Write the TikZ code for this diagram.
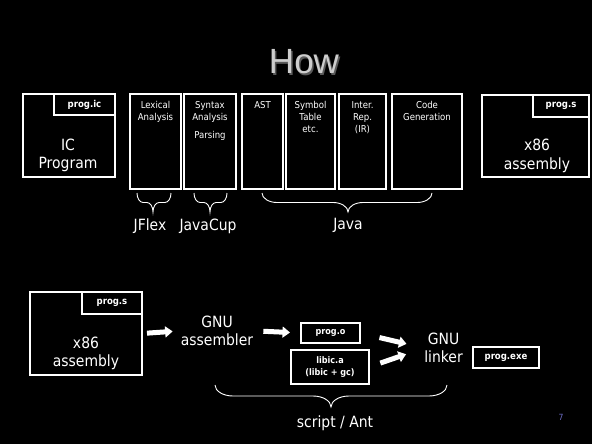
\documentclass[tikz,border=0pt]{standalone}
\usepackage{fontspec}
\setmainfont{DejaVu Sans}[FakeStretch=0.9]
\newfontfamily\titlefont{Liberation Sans}
\usetikzlibrary{arrows.meta}
\definecolor{pagenum}{RGB}{110,110,200}
\definecolor{titlegray}{RGB}{205,205,205}
\definecolor{titleshadow}{RGB}{90,90,90}
% x1, xm, x2, top, rx, ry
\newcommand\mybrace[6]{%
  \draw[bracestyle] (#1,#4) .. controls (#1,{#4+0.55*#6}) and ({#1+0.45*#5},{#4+#6}) .. ({#1+#5},{#4+#6})
    -- ({#2-#5},{#4+#6}) .. controls ({#2-0.45*#5},{#4+#6}) and (#2,{#4+1.45*#6}) .. (#2,{#4+2*#6})
    .. controls (#2,{#4+1.45*#6}) and ({#2+0.45*#5},{#4+#6}) .. ({#2+#5},{#4+#6})
    -- ({#3-#5},{#4+#6}) .. controls ({#3-0.45*#5},{#4+#6}) and (#3,{#4+0.55*#6}) .. (#3,#4);}
\begin{document}
\begin{tikzpicture}[x=1pt,y=-1pt,
  box/.style={draw=white, line width=1.8pt, fill=black, inner sep=0pt, outer sep=0pt},
  tabbox/.style={box, text=white, font=\bfseries\fontsize{9.5}{11}\selectfont},
  lbox/.style={box, text=white, align=center, font=\bfseries\fontsize{9}{12.3}\selectfont},
  bigtxt/.style={text=white, font=\fontsize{15.5}{18.5}\selectfont, align=center, inner sep=0pt},
  smalltxt/.style={text=white, font=\fontsize{9.5}{12}\selectfont, align=center, inner sep=0pt},
  blockarrow/.style={draw=white, line width=5pt, -{Triangle[length=7.5pt,width=11pt]}},
  bracestyle/.style={draw=white, line width=0.9pt},
  stagebox/.style={box, minimum height=95, anchor=north west}
]
\fill[black] (0,0) rectangle (592,444);
\useasboundingbox (0,0) rectangle (592,444);

% title
\node[font=\titlefont\fontsize{35}{40}\selectfont, text=titleshadow, anchor=base, inner sep=0pt] (titlesh) at (305.5,75.5) {How};
\node[font=\titlefont\fontsize{35}{40}\selectfont, text=titlegray, anchor=base, inner sep=0pt] (title) at (304,74) {How};

% top row
\node[box, minimum width=92, minimum height=83, anchor=north west] (icbox) at (23,94) {};
\node[tabbox, minimum width=61, minimum height=21, anchor=north east] (ictab) at (icbox.north east) {prog.ic};
\node[bigtxt, anchor=north] (ictxt) at (68,138.7) {IC\\Program};

\node[stagebox, minimum width=51] (lex) at (130,94) {};
\node[stagebox, minimum width=52] (syn) at (184,94) {};
\node[stagebox, minimum width=41] (ast) at (242,94) {};
\node[stagebox, minimum width=49] (sym) at (286,94) {};
\node[stagebox, minimum width=47] (ir) at (339,94) {};
\node[stagebox, minimum width=70] (cg) at (392,94) {};
\node[smalltxt, anchor=north] (lextxt) at (155.5,101.5) {Lexical\\Analysis};
\node[smalltxt, anchor=north] (syntxt) at (210,101.5) {Syntax\\Analysis\\[6pt]Parsing};
\node[smalltxt, anchor=north] (asttxt) at (262.5,101.5) {AST};
\node[smalltxt, anchor=north] (symtxt) at (310.5,101.5) {Symbol\\Table\\etc.};
\node[smalltxt, anchor=north] (irtxt) at (362.5,101.5) {Inter.\\Rep.\\(IR)};
\node[smalltxt, anchor=north] (cgtxt) at (427,101.5) {Code\\Generation};

\node[box, minimum width=107, minimum height=82, anchor=north west] (asmtop) at (482,95) {};
\node[tabbox, minimum width=56, minimum height=22, anchor=north east] (asmtoptab) at (asmtop.north east) {prog.s};
\node[bigtxt, anchor=north] (asmtoptxt) at (537,139) {x86\\assembly};

% braces top
\mybrace{137}{153}{171}{193}{6}{9.5}
\mybrace{194}{210}{227}{193}{6}{9.5}
\mybrace{262}{348}{432}{193}{15}{9.5}
\node[bigtxt, anchor=north] (jflex) at (150,218.3) {JFlex};
\node[bigtxt, anchor=north] (javacup) at (208,218.3) {JavaCup};
\node[bigtxt, anchor=north] (java) at (348,218.3) {Java};

% bottom row
\node[box, minimum width=112, minimum height=83, anchor=north west] (asmb) at (30,292) {};
\node[tabbox, minimum width=60, minimum height=22, anchor=north east] (asmbtab) at (asmb.north east) {prog.s};
\node[bigtxt, anchor=north] (asmbtxt) at (86,336.5) {x86\\assembly};

\node[bigtxt, anchor=north] (gnuas) at (217,315.5) {GNU\\assembler};
\node[lbox, minimum width=59, minimum height=20] (progo) at (330.5,333) {prog.o};
\node[lbox, minimum width=78, minimum height=34] (libic) at (330,367) {libic.a\\(libic + gc)};
\node[bigtxt, anchor=north] (linker) at (443.5,332.7) {GNU\\linker};
\node[tabbox, minimum width=66, minimum height=21] (progexe) at (506,357.5) {prog.exe};

\draw[blockarrow, shorten <=5pt, shorten >=8pt] (asmb.east) -- (gnuas.west);
\draw[blockarrow, shorten <=10pt, shorten >=11pt] (gnuas.east) -- (progo.west);
\draw[blockarrow, shorten <=20pt, shorten >=18pt] (progo.east) -- (linker.west);
\draw[blockarrow, shorten <=12pt, shorten >=19pt] (libic.east) -- (linker.west);

\mybrace{215}{331}{447}{385}{18}{11}
\node[bigtxt, anchor=north] (script) at (335,415.7) {script / Ant};

\node[text=pagenum, font=\fontsize{8.5}{9}\selectfont, inner sep=0pt] (pnum) at (561,417) {7};
\end{tikzpicture}
\end{document}
